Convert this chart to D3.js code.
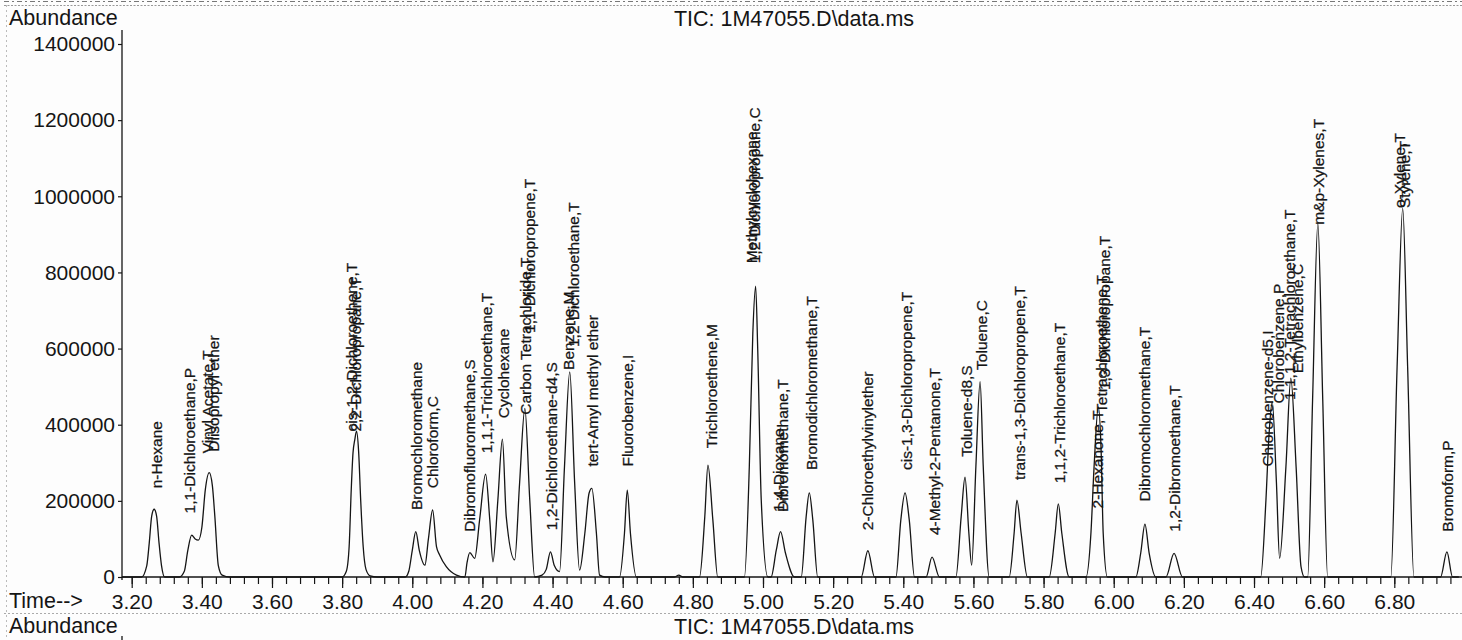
<!DOCTYPE html>
<html>
<head>
<meta charset="utf-8">
<script src="https://cdn.jsdelivr.net/npm/d3@7"></script>
<style>
  body { margin: 0; background: #fff; }
  svg { display: block; font-family: "Liberation Sans", Arial, sans-serif; }
</style>
</head>
<body>
<svg id="chart" width="1462" height="640"></svg>
<script>
// TIC trace (minutes, abundance)
const traceTime = [
  3.172, 3.228, 3.243, 3.250, 3.257, 3.264, 3.271, 3.278, 3.285, 3.294,
  3.336, 3.350, 3.360, 3.371, 3.381, 3.390, 3.400, 3.410, 3.421, 3.430, 3.437, 3.447, 3.458, 3.480,
  3.800, 3.812, 3.820, 3.826, 3.831, 3.836, 3.841, 3.847, 3.853, 3.860, 3.868, 3.880, 3.900,
  3.980, 3.990, 4.000, 4.010, 4.020, 4.036, 4.046, 4.058, 4.069, 4.078, 4.097, 4.126, 4.150,
  4.156, 4.164, 4.178, 4.192, 4.209, 4.221, 4.230, 4.244, 4.257, 4.268, 4.292, 4.306, 4.321, 4.335, 4.349,
  4.370, 4.382, 4.394, 4.405, 4.420, 4.434, 4.449, 4.463, 4.477, 4.492, 4.504, 4.512, 4.525, 4.534, 4.550,
  4.591, 4.605, 4.613, 4.622, 4.639, 4.748, 4.760, 4.771,
  4.819, 4.834, 4.843, 4.857, 4.871, 4.947, 4.961, 4.971, 4.979, 4.985, 4.995, 5.014,
  5.023, 5.038, 5.050, 5.064, 5.090, 5.109, 5.123, 5.132, 5.142, 5.156,
  5.280, 5.299, 5.318, 5.379, 5.393, 5.405, 5.417, 5.432, 5.465, 5.482, 5.503,
  5.550, 5.565, 5.576, 5.587, 5.595, 5.607, 5.619, 5.628, 5.645,
  5.702, 5.716, 5.724, 5.736, 5.754, 5.816, 5.833, 5.842, 5.852, 5.873,
  5.921, 5.935, 5.944, 5.956, 5.964, 5.970, 5.982,
  6.063, 6.077, 6.089, 6.101, 6.120, 6.149, 6.172, 6.196,
  6.419, 6.434, 6.443, 6.452, 6.464, 6.473, 6.491, 6.505, 6.520, 6.534, 6.544,
  6.553, 6.567, 6.582, 6.596, 6.610, 6.790, 6.808, 6.824, 6.838, 6.856,
  6.932, 6.950, 6.966, 6.984
];
const traceAbundance = [
  0, 0, 30000, 89000, 160000, 178000, 160000, 89000, 30000, 0,
  0, 15000, 70000, 110000, 100000, 97000, 130000, 230000, 274000, 240000, 160000, 30000, 5000, 0,
  0, 15000, 80000, 230000, 326000, 360000, 383000, 330000, 200000, 80000, 20000, 3000, 0,
  0, 15000, 70000, 119000, 70000, 31000, 100000, 176000, 80000, 58000, 27000, 5000, 0,
  37000, 64000, 49000, 150000, 270000, 150000, 40000, 202000, 362000, 158000, 45000, 247000, 443000, 202000, 0,
  5000, 20000, 66000, 30000, 14000, 290000, 539000, 247000, 18000, 115000, 220000, 233000, 115000, 5000, 0,
  0, 115000, 228000, 115000, 0, 0, 5000, 0,
  0, 158000, 294000, 150000, 0, 0, 290000, 641000, 764000, 596000, 202000, 0,
  0, 71000, 119000, 63000, 0, 0, 158000, 221000, 150000, 0,
  0, 69000, 0, 0, 150000, 221000, 150000, 0, 0, 52000, 0,
  0, 158000, 262000, 115000, 31000, 290000, 513000, 290000, 0,
  0, 115000, 202000, 115000, 0, 0, 115000, 192000, 115000, 0,
  0, 115000, 290000, 447000, 334000, 115000, 0,
  0, 63000, 139000, 63000, 0, 0, 62000, 0,
  0, 202000, 377000, 460000, 246000, 49000, 290000, 522000, 290000, 27000, 0,
  0, 465000, 929000, 465000, 0, 0, 552000, 968000, 552000, 0,
  0, 66000, 0, 0
];

// compound labels: name, retention time, abundance level where the label starts
const peakNames = [
  "n-Hexane", "1,1-Dichloroethane,P", "Vinyl Acetate,T", "Diisopropyl ether",
  "cis-1,2-Dichloroethene,T", "2,2-Dichloropropane,T",
  "Bromochloromethane", "Chloroform,C", "Dibromofluoromethane,S", "1,1,1-Trichloroethane,T",
  "Cyclohexane", "Carbon Tetrachloride,T", "1,1-Dichloropropene,T", "1,2-Dichloroethane-d4,S",
  "Benzene,M", "1,2-Dichloroethane,T", "tert-Amyl methyl ether", "Fluorobenzene,I",
  "Trichloroethene,M", "Methylcyclohexane", "1,2-Dichloropropane,C", "1,4-Dioxane",
  "Dibromomethane,T", "Bromodichloromethane,T", "2-Chloroethylvinylether",
  "cis-1,3-Dichloropropene,T", "4-Methyl-2-Pentanone,T", "Toluene-d8,S", "Toluene,C",
  "trans-1,3-Dichloropropene,T", "1,1,2-Trichloroethane,T", "2-Hexanone,T",
  "Tetrachloroethene,T", "1,3-Dichloropropane,T", "Dibromochloromethane,T",
  "1,2-Dibromoethane,T", "Chlorobenzene-d5,I", "Chlorobenzene,P",
  "1,1,1,2-Tetrachloroethane,T", "Ethylbenzene,C", "m&p-Xylenes,T", "o-Xylene,T",
  "Styrene,T", "Bromoform,P"
];
const peakTimes = [
  3.271, 3.366, 3.415, 3.432,
  3.828, 3.839,
  4.012, 4.059, 4.164, 4.211,
  4.259, 4.323, 4.335, 4.397,
  4.446, 4.460, 4.515, 4.615,
  4.852, 4.966, 4.976, 5.044,
  5.056, 5.137, 5.299,
  5.408, 5.489, 5.579, 5.622,
  5.731, 5.845, 5.954,
  5.965, 5.973, 6.087,
  6.172, 6.438, 6.471,
  6.500, 6.523, 6.585, 6.816,
  6.828, 6.951
];
const peakLabelLevels = [
  233000, 167000, 325000, 329000,
  382000, 382000,
  176000, 233000, 119000, 325000,
  417000, 426000, 641000, 123000,
  544000, 604000, 290000, 290000,
  338000, 824000, 824000, 171000,
  171000, 281000, 123000,
  281000, 110000, 316000, 544000,
  255000, 246000, 180000,
  431000, 491000, 198000,
  119000, 290000, 456000,
  465000, 535000, 925000, 969000,
  969000, 119000
];

const timeTicks = [3.2, 3.4, 3.6, 3.8, 4.0, 4.2, 4.4, 4.6, 4.8, 5.0, 5.2, 5.4, 5.6, 5.8, 6.0, 6.2, 6.4, 6.6, 6.8];
const abundanceTicks = [0, 200000, 400000, 600000, 800000, 1000000, 1200000, 1400000];
const title = "TIC: 1M47055.D\\data.ms";

const svg = d3.select("#chart");
const INK = "#151515";

svg.append("rect").attr("width", 1462).attr("height", 640).attr("fill", "#fdfdfd");

const x = d3.scaleLinear().domain([3.2, 6.8]).range([131.7, 1394.3]);
const y = d3.scaleLinear().domain([0, 1400000]).range([577, 44]);

// scan border remnants
svg.append("line").attr("x1", 4).attr("x2", 1462).attr("y1", 1.5).attr("y2", 1.5)
  .attr("stroke", "#777").attr("stroke-dasharray", "5,3,2,3");
svg.append("line").attr("x1", 4).attr("x2", 1462).attr("y1", 5.5).attr("y2", 5.5)
  .attr("stroke", "#999").attr("stroke-dasharray", "2,1.5");
svg.append("line").attr("x1", 4).attr("x2", 1462).attr("y1", 613.5).attr("y2", 613.5)
  .attr("stroke", "#aaa").attr("stroke-dasharray", "2,2");
svg.append("line").attr("x1", 6.5).attr("x2", 6.5).attr("y1", 5).attr("y2", 640)
  .attr("stroke", "#bbb").attr("stroke-dasharray", "2,3");

// axes
const minorTimes = d3.range(3.2, 6.97, 0.04);
const xMinor = d3.axisBottom(x).tickValues(minorTimes).tickSize(7).tickFormat("");
svg.append("g").attr("transform", "translate(0,577)").call(xMinor);

const xAxis = d3.axisBottom(x).tickValues(timeTicks).tickSize(11).tickPadding(6)
  .tickFormat(d3.format(".2f"));
const gx = svg.append("g").attr("transform", "translate(0,577)").call(xAxis);
gx.selectAll("text").attr("font-size", 21).attr("fill", INK);

const yAxis = d3.axisLeft(y).tickValues(abundanceTicks).tickSize(4).tickPadding(3)
  .tickFormat(d3.format("d"));
const gy = svg.append("g").attr("transform", "translate(122,0)").call(yAxis);
gy.selectAll("text").attr("font-size", 21).attr("fill", INK);

svg.selectAll(".domain").remove();
svg.selectAll(".tick line").attr("stroke", INK).attr("stroke-width", 1.2);
svg.append("line").attr("x1", 122).attr("x2", 1462).attr("y1", 577).attr("y2", 577)
  .attr("stroke", INK).attr("stroke-width", 1.3);
svg.append("line").attr("x1", 122).attr("x2", 122).attr("y1", 30).attr("y2", 580)
  .attr("stroke", INK).attr("stroke-width", 1.3);
svg.append("line").attr("x1", 122).attr("x2", 122).attr("y1", 636).attr("y2", 640)
  .attr("stroke", INK).attr("stroke-width", 1.3);

// the trace
const points = traceTime.map((t, i) => [t, traceAbundance[i]]);
const line = d3.line().x(d => x(d[0])).y(d => y(d[1])).curve(d3.curveMonotoneX);
svg.append("path").datum(points).attr("d", line)
  .attr("fill", "none").attr("stroke", INK).attr("stroke-width", 1.3);

// compound labels
svg.append("g").selectAll("text").data(peakNames).join("text")
  .attr("transform", (d, i) => `translate(${x(peakTimes[i]) + 5.5},${y(peakLabelLevels[i])}) rotate(-90)`)
  .attr("font-size", 15.5).attr("fill", INK)
  .attr("stroke", INK).attr("stroke-width", 0.25).text(d => d);

// titles
const texts = [
  { t: "Abundance", x: 9, y: 25, a: "start" },
  { t: title, x: 794, y: 26, a: "middle" },
  { t: "Time-->", x: 9, y: 608, a: "start" },
  { t: "Abundance", x: 9, y: 633, a: "start" },
  { t: title, x: 794, y: 634, a: "middle" }
];
svg.append("g").selectAll("text").data(texts).join("text")
  .attr("x", d => d.x).attr("y", d => d.y).attr("text-anchor", d => d.a)
  .attr("font-size", 21.5).attr("fill", INK).text(d => d.t);
</script>
</body>
</html>
